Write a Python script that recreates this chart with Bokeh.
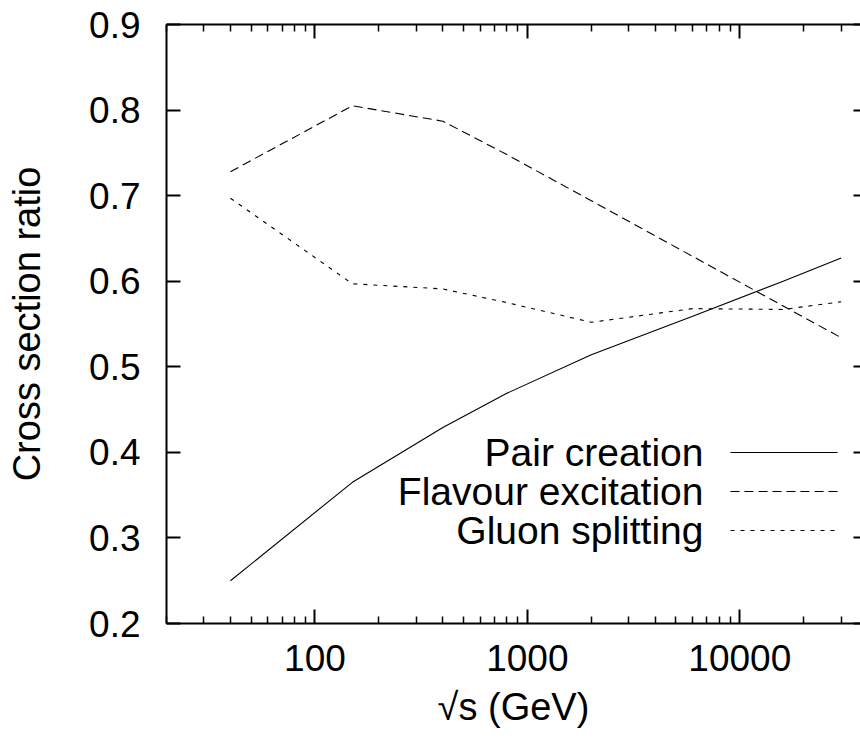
from bokeh.plotting import figure
from bokeh.models import Range1d, FixedTicker, LogAxis, LinearAxis, Label, Arrow, CustomJSTickFormatter
from bokeh.embed import file_html
from bokeh.resources import INLINE

# ---- data ----
energy = [40, 150, 400, 800, 2000, 6000, 16000, 30000]
pair_creation = [0.250, 0.365, 0.429, 0.469, 0.514, 0.559, 0.600, 0.627]
flavour_excitation = [0.728, 0.805, 0.787, 0.748, 0.694, 0.629, 0.571, 0.534]
gluon_splitting = [0.697, 0.597, 0.591, 0.575, 0.552, 0.568, 0.567, 0.576]

series_names = ["Pair creation", "Flavour excitation", "Gluon splitting"]

x_major = [100, 1000, 10000]
x_minor = [20, 30, 40, 50, 60, 70, 80, 90,
           200, 300, 400, 500, 600, 700, 800, 900,
           2000, 3000, 4000, 5000, 6000, 7000, 8000, 9000,
           20000, 30000]
x_tick_labels = ["100", "1000", "10000"]
y_ticks = [0.2, 0.3, 0.4, 0.5, 0.6, 0.7, 0.8, 0.9]
y_tick_labels = ["0.2", "0.3", "0.4", "0.5", "0.6", "0.7", "0.8", "0.9"]

X_MIN, X_MAX = 20, 37000
Y_MIN, Y_MAX = 0.2, 0.9

FONT = "Liberation Sans"

LOOKUP = """
let best = -1, bd = Infinity;
for (let i = 0; i < tvals.length; i++) {
  const d = Math.abs(tvals[i] - tick) / Math.max(1e-12, Math.abs(tvals[i]));
  if (d < bd) { bd = d; best = i; }
}
return (best >= 0 && bd < 1e-6) ? tlabels[best] : "";
"""

p = figure(width=860, height=745, x_axis_type="log",
           x_range=Range1d(X_MIN, X_MAX), y_range=Range1d(Y_MIN, Y_MAX),
           output_backend="svg", toolbar_location=None,
           min_border_left=166, min_border_right=0,
           min_border_top=24, min_border_bottom=122)
p.outline_line_color = None
p.xgrid.visible = False
p.ygrid.visible = False
p.background_fill_color = "white"
p.border_fill_color = "white"

# bottom axis
xa = p.xaxis[0]
xa.ticker = FixedTicker(ticks=x_major, minor_ticks=x_minor)
xa.formatter = CustomJSTickFormatter(args=dict(tvals=x_major, tlabels=x_tick_labels), code=LOOKUP)
xa.axis_label = "√s (GeV)"
xa.axis_label_text_font = FONT
xa.axis_label_text_font_size = "38px"
xa.axis_label_text_font_style = "normal"
xa.axis_label_text_color = "black"
xa.axis_label_standoff = 12
xa.major_label_text_font = FONT
xa.major_label_text_font_size = "37px"
xa.major_label_text_color = "black"
xa.major_label_standoff = 21
xa.major_tick_in = 14
xa.major_tick_out = 0
xa.minor_tick_in = 7
xa.minor_tick_out = 0
xa.axis_line_width = 2
xa.major_tick_line_width = 2
xa.minor_tick_line_width = 1.5
xa.axis_line_color = "black"

# left axis
ya = p.yaxis[0]
ya.ticker = FixedTicker(ticks=y_ticks, minor_ticks=[])
ya.formatter = CustomJSTickFormatter(args=dict(tvals=y_ticks, tlabels=y_tick_labels), code=LOOKUP)
ya.axis_label = "Cross section ratio"
ya.axis_label_text_font = FONT
ya.axis_label_text_font_size = "38px"
ya.axis_label_text_font_style = "normal"
ya.axis_label_text_color = "black"
ya.axis_label_standoff = 38
ya.major_label_text_font = FONT
ya.major_label_text_font_size = "37px"
ya.major_label_text_color = "black"
ya.major_label_standoff = 26
ya.major_tick_in = 14
ya.major_tick_out = 0
ya.minor_tick_in = 0
ya.minor_tick_out = 0
ya.axis_line_width = 2
ya.major_tick_line_width = 2
ya.axis_line_color = "black"

# top axis (mirror ticks, no labels)
top = LogAxis(ticker=FixedTicker(ticks=x_major, minor_ticks=x_minor))
top.major_label_text_font_size = "1px"
top.major_label_text_alpha = 0
top.major_label_standoff = 0
top.major_tick_in = 14
top.major_tick_out = 0
top.minor_tick_in = 7
top.minor_tick_out = 0
top.axis_line_width = 2
top.major_tick_line_width = 2
top.minor_tick_line_width = 1.5
top.axis_line_color = "black"
p.add_layout(top, "above")

# right axis (mirror ticks; the border itself lies just outside the picture)
right = LinearAxis(ticker=FixedTicker(ticks=y_ticks, minor_ticks=[]))
right.major_label_text_font_size = "1px"
right.major_label_text_alpha = 0
right.major_label_standoff = 0
right.major_tick_in = 7
right.major_tick_out = 0
right.minor_tick_in = 0
right.minor_tick_out = 0
right.axis_line_alpha = 0
right.major_tick_line_width = 2
p.add_layout(right, "right")

styles = [
    dict(line_dash="solid"),
    dict(line_dash="9 5"),
    dict(line_dash="4 6"),
]
series = [pair_creation, flavour_excitation, gluon_splitting]

for vals, st in zip(series, styles):
    p.line(energy, vals, line_color="black", line_width=1.1, **st)

# key (gnuplot style: text right-aligned, sample line to its right)
row_y = [171, 132, 93]
for name, st, yy in zip(series_names, styles, row_y):
    p.add_layout(Label(x=537, y=yy, x_units="screen", y_units="screen",
                       text=name, text_align="right", text_baseline="middle",
                       text_font=FONT, text_font_size="39px", text_color="black"))
    p.add_layout(Arrow(x_start=564, y_start=yy, x_end=671, y_end=yy,
                       start_units="screen", end_units="screen",
                       start=None, end=None, line_color="black",
                       line_width=1.1, **st))

open("out.html", "w").write(file_html(p, INLINE))
